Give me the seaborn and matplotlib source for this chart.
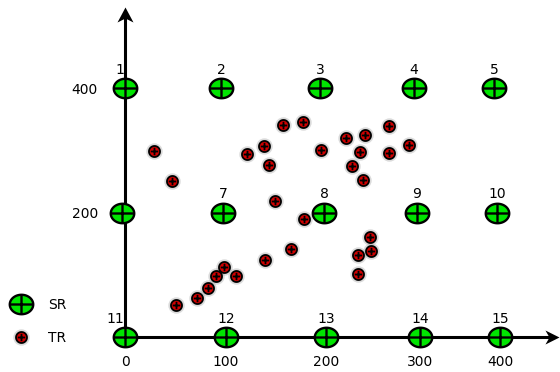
import numpy as np
import matplotlib
matplotlib.use("Agg")
import matplotlib.pyplot as plt
import seaborn as sns
from matplotlib.path import Path
from matplotlib.markers import MarkerStyle
from matplotlib.lines import Line2D
from matplotlib.legend_handler import HandlerTuple

# ---------------- data ----------------
sr_id = list(range(1, 16))
sr_x = [0, 96, 195, 289, 369,
        -3, 98, 199, 292, 372,
        0, 101, 201, 295, 375]
sr_y = [400, 400, 400, 400, 400,
        200, 200, 200, 200, 200,
        0, 0, 0, 0, 0]

tr_x = [29, 47, 158, 178, 139, 122, 144, 196, 221, 240,
        264, 284, 235, 264, 227, 238, 150, 179, 245, 246,
        233, 233, 166, 140, 99, 91, 111, 83, 72, 51]
tr_y = [299, 251, 340, 346, 307, 294, 276, 301, 319, 324,
        339, 308, 297, 296, 275, 252, 218, 189, 161, 138,
        132, 101, 141, 123, 113, 98, 98, 78, 63, 52]

x_tick_pos = [0, 101, 201, 295, 375]
x_tick_labels = ["0", "100", "200", "300", "400"]
y_tick_pos = [200, 400]
y_tick_labels = ["200", "400"]
legend_labels = ["SR", "TR"]

GREEN = "#00e400"
RED = "#d20000"

plt.rcParams["font.family"] = ["DejaVu Sans"]
plt.rcParams["font.size"] = 10


def ring_marker(aspect, cross):
    t = np.linspace(0, 2 * np.pi, 65)
    verts = list(zip(np.cos(t), aspect * np.sin(t)))
    codes = [Path.MOVETO] + [Path.LINETO] * 63 + [Path.CLOSEPOLY]
    verts += [(-cross, 0), (cross, 0), (0, -cross * aspect), (0, cross * aspect)]
    codes += [Path.MOVETO, Path.LINETO, Path.MOVETO, Path.LINETO]
    return MarkerStyle(Path(verts, codes))


def head_marker(direction):
    if direction == "up":
        v = [(0, 0), (-8, -15), (0, -11), (8, -15), (0, 0)]
    else:
        v = [(0, 0), (-14, 7), (-10, 0), (-14, -7), (0, 0)]
    c = [Path.MOVETO, Path.LINETO, Path.LINETO, Path.LINETO, Path.CLOSEPOLY]
    return MarkerStyle(Path(v, c))


sr_marker = ring_marker(0.83, 1.0)
tr_marker = ring_marker(1.0, 0.68)

fig = plt.figure(figsize=(5.6, 3.72), dpi=100)
PX_PER_Y = 0.6225
ax = fig.add_axes([125 / 560, 35 / 372, 435 / 560, 337 / 372])
ax.set_xlim(0, 435)
ax.set_ylim(0, 337 / PX_PER_Y)
for s in ax.spines.values():
    s.set_visible(False)

# axes lines with arrows
y_tip = (337 - 7.3) / PX_PER_Y
x_tip = 434
ax.plot([0, 0], [0, y_tip - 10 / PX_PER_Y], color="black", lw=2.2,
        solid_capstyle="butt", zorder=2, clip_on=False)
ax.plot([0, x_tip - 9], [0, 0], color="black", lw=2.2,
        solid_capstyle="butt", zorder=2, clip_on=False)
ax.plot([0], [y_tip], marker=head_marker("up"), markersize=21.6, color="black",
        markeredgewidth=0, zorder=2, clip_on=False)
ax.plot([x_tip], [0], marker=head_marker("right"), markersize=20.2, color="black",
        markeredgewidth=0, zorder=2, clip_on=False)

# TR points (halo + marker)
sns.scatterplot(x=tr_x, y=tr_y, marker="o", s=140, color="#8a8a8a", alpha=0.3,
                linewidth=0, ax=ax, zorder=3, clip_on=False)
sns.scatterplot(x=tr_x, y=tr_y, marker=tr_marker, s=63, color=RED,
                edgecolor="black", linewidth=1.3, ax=ax, zorder=4, clip_on=False)

# SR points
sns.scatterplot(x=sr_x, y=sr_y, marker=sr_marker, s=286, color=GREEN,
                edgecolor="black", linewidth=1.7, ax=ax, zorder=5, clip_on=False)

for i, x, y in zip(sr_id, sr_x, sr_y):
    if x <= 0:
        ax.annotate(str(i), (x, y), xytext=(-1, 14), textcoords="offset pixels",
                    ha="right", va="baseline", fontsize=10, zorder=6)
    else:
        ax.annotate(str(i), (x, y), xytext=(0, 14), textcoords="offset pixels",
                    ha="center", va="baseline", fontsize=10, zorder=6)

ax.set_xticks(x_tick_pos, x_tick_labels)
ax.set_yticks(y_tick_pos, y_tick_labels)
ax.tick_params(axis="x", length=0, pad=13, labelsize=10)
ax.tick_params(axis="y", length=0, pad=19.4, labelsize=10)

# legend
sr_handle = Line2D([], [], linestyle="none", marker=sr_marker, markersize=16.9,
                   markerfacecolor=GREEN, markeredgecolor="black", markeredgewidth=1.7)
tr_halo = Line2D([], [], linestyle="none", marker="o", markersize=11.8,
                 markerfacecolor="#8a8a8a", markeredgewidth=0, alpha=0.3)
tr_handle = Line2D([], [], linestyle="none", marker=tr_marker, markersize=7.9,
                   markerfacecolor=RED, markeredgecolor="black", markeredgewidth=1.3)
ax.legend(handles=[sr_handle, (tr_halo, tr_handle)], labels=legend_labels,
          handler_map={tuple: HandlerTuple(ndivide=1, pad=0)},
          loc="center left", bbox_to_anchor=(7 / 560, (372 - 321.5) / 372),
          bbox_transform=fig.transFigure, frameon=False, borderpad=0,
          borderaxespad=0, labelspacing=1.4, handletextpad=0.95,
          handlelength=2.0, fontsize=10)

fig.savefig("out.png", dpi=100)
